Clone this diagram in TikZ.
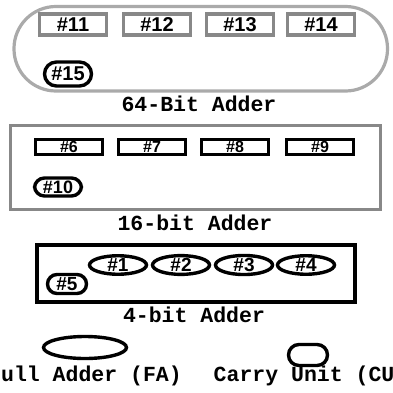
\documentclass[tikz,border=0pt]{standalone}
\usepackage{fontspec}
\usetikzlibrary{shapes.geometric}
\newfontfamily\monofnt{Liberation Mono}
\newfontfamily\sansfnt{Liberation Sans}
\definecolor{lightgray}{HTML}{AAAAAA}
\definecolor{midgray}{HTML}{888888}
\tikzset{
  stadium/.style={draw=lightgray, line width=3.2pt, rectangle, rounded corners=42pt,
    minimum width=373.5pt, minimum height=84.5pt, inner sep=0pt},
  graybox/.style={draw=midgray, line width=3.2pt, rectangle, minimum width=67pt,
    minimum height=21pt, inner sep=0pt, font=\sansfnt\bfseries\fontsize{20}{20}\selectfont},
  blackbox/.style={draw=black, line width=3pt, rectangle, minimum width=67pt,
    minimum height=14.5pt, text height=11.4pt, text depth=0pt, inner sep=0pt,
    font=\sansfnt\bfseries\fontsize{16}{16}\selectfont},
  frame16/.style={draw=midgray, line width=3.4pt, rectangle, minimum width=370pt,
    minimum height=84pt, inner sep=0pt},
  frame4/.style={draw=black, line width=4.5pt, rectangle, minimum width=318pt,
    minimum height=57pt, inner sep=0pt},
  fa/.style={draw=black, line width=3.4pt, ellipse, minimum width=57pt,
    minimum height=17pt, inner sep=0pt, font=\sansfnt\bfseries\fontsize{19}{19}\selectfont},
  cu/.style={draw=black, line width=3.4pt, rectangle, rounded corners=#1, inner sep=0pt},
  caption/.style={anchor=base, inner sep=0pt, font=\monofnt\bfseries\fontsize{21.5}{21.5}\selectfont}
}
\begin{document}
\begin{tikzpicture}[x=1pt,y=-1pt]
\useasboundingbox (0,0) rectangle (393,393);

% 64-bit adder
\node[stadium] (s64) at (200.75,48.75) {};
\node[graybox] (b11) at (73,24.5) {\#11};
\node[graybox] (b12) at (157,24.5) {\#12};
\node[graybox] (b13) at (240,24.5) {\#13};
\node[graybox] (b14) at (321,24.5) {\#14};
\node[cu=12pt, minimum width=47pt, minimum height=24pt,
  font=\sansfnt\bfseries\fontsize{20}{20}\selectfont] (c15) at (68,74) {\#15};
\node[caption] (t64) at (199,112) {64-Bit Adder};

% 16-bit adder
\node[frame16] (f16) at (195.5,167.5) {};
\node[blackbox] (b6) at (69,147) {\#6};
\node[blackbox] (b7) at (152,147) {\#7};
\node[blackbox] (b8) at (235,147) {\#8};
\node[blackbox] (b9) at (320,147) {\#9};
\node[cu=10pt, minimum width=47pt, minimum height=18pt,
  font=\sansfnt\bfseries\fontsize{18}{18}\selectfont] (c10) at (58,187) {\#10};
\node[caption] (t16) at (195,230) {16-bit Adder};

% 4-bit adder
\node[frame4] (f4) at (196,273.5) {};
\node[fa] (a1) at (118,265) {\#1};
\node[fa] (a2) at (181,265) {\#2};
\node[fa] (a3) at (244,265) {\#3};
\node[fa] (a4) at (306,265) {\#4};
\node[cu=9.5pt, minimum width=39pt, minimum height=19pt,
  font=\sansfnt\bfseries\fontsize{19}{19}\selectfont] (c5) at (67,284) {\#5};
\node[caption] (t4) at (194,322) {4-bit Adder};

% legend
\node[draw=black, line width=3.4pt, ellipse, minimum width=83pt, minimum height=22pt,
  inner sep=0pt] (fa) at (85,347.5) {};
\node[caption] (tfa) at (85,381) {Full Adder (FA)};
\node[cu=10.5pt, minimum width=39pt, minimum height=21pt] (cu) at (308,355) {};
\node[caption] (tcu) at (310.5,381) {Carry Unit (CU)};
\end{tikzpicture}
\end{document}
